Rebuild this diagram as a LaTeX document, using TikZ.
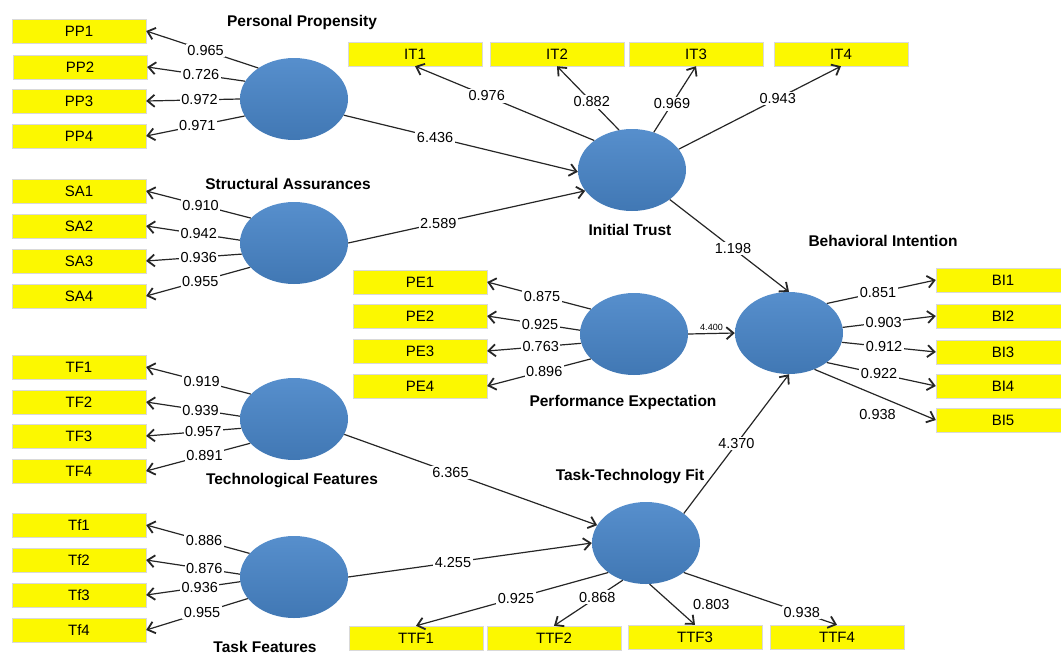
\documentclass[tikz,border=0pt]{standalone}
\usepackage{fontspec}
\setmainfont{Liberation Sans}
\usetikzlibrary{shapes.geometric,arrows.meta}
\definecolor{indyellow}{RGB}{252,248,0}
\definecolor{lvblue}{RGB}{72,133,200}
\begin{document}
\begin{tikzpicture}[x=1pt,y=-1pt,
  ind/.style={draw=black!15,fill=indyellow,minimum width=134pt,minimum height=24pt,inner sep=0pt,font=\fontsize{15}{18}\selectfont},
  lv/.style={ellipse,top color=lvblue!92!white,bottom color=lvblue!90!black,minimum width=108pt,minimum height=82pt,inner sep=0pt},
  ld/.style={draw=black!85,line width=1.2pt,-{Straight Barb[length=7pt,width=12pt,line width=1.8pt]}},
  coef/.style={fill=white,inner sep=1.5pt,font=\fontsize{14.5}{17}\selectfont},
  lvname/.style={font=\fontsize{15.5}{18}\selectfont\bfseries}]
\useasboundingbox (0,0) rectangle (1061,657);
\node[ind] (pp1) at (79,31) {PP1};
\node[ind] (pp2) at (80,67) {PP2};
\node[ind] (pp3) at (79,101) {PP3};
\node[ind] (pp4) at (79,136) {PP4};
\node[ind] (sa1) at (79,191) {SA1};
\node[ind] (sa2) at (79,226) {SA2};
\node[ind] (sa3) at (79,261) {SA3};
\node[ind] (sa4) at (79,296) {SA4};
\node[ind] (tef1) at (79,367) {TF1};
\node[ind] (tef2) at (79,402) {TF2};
\node[ind] (tef3) at (79,436) {TF3};
\node[ind] (tef4) at (79,471) {TF4};
\node[ind] (taf1) at (79,525) {Tf1};
\node[ind] (taf2) at (79,560) {Tf2};
\node[ind] (taf3) at (79,595) {Tf3};
\node[ind] (taf4) at (79,630) {Tf4};
\node[ind] (it1) at (415,54) {IT1};
\node[ind] (it2) at (557,54) {IT2};
\node[ind] (it3) at (696,54) {IT3};
\node[ind] (it4) at (841,54) {IT4};
\node[ind] (pe1) at (420,282) {PE1};
\node[ind] (pe2) at (420,316) {PE2};
\node[ind] (pe3) at (420,351) {PE3};
\node[ind] (pe4) at (420,386) {PE4};
\node[ind] (bi1) at (1003,280) {BI1};
\node[ind] (bi2) at (1003,316) {BI2};
\node[ind] (bi3) at (1003,352) {BI3};
\node[ind] (bi4) at (1003,386) {BI4};
\node[ind] (bi5) at (1003,420) {BI5};
\node[ind] (ttf1) at (416,638) {TTF1};
\node[ind] (ttf2) at (554,638) {TTF2};
\node[ind] (ttf3) at (695,637) {TTF3};
\node[ind] (ttf4) at (837,637) {TTF4};
\node[lv] (pp) at (294,99) {};
\node[lv] (sa) at (294,243) {};
\node[lv] (tef) at (294,419) {};
\node[lv] (taf) at (294,577) {};
\node[lv] (it) at (632,170) {};
\node[lv] (pe) at (634,334) {};
\node[lv] (bi) at (789,333) {};
\node[lv] (ttf) at (646,543) {};
\node[lvname] (ppname) at (302,22) {Personal Propensity};
\node[lvname] (saname) at (288,184) {Structural Assurances};
\node[lvname] (itname) at (630,230) {Initial Trust};
\node[lvname] (biname) at (883,241) {Behavioral Intention};
\node[lvname] (pename) at (623,402) {Performance Expectation};
\node[lvname] (tefname) at (292,481) {Technological Features};
\node[lvname] (ttfname) at (630,477) {Task-Technology Fit};
\node[lvname] (tafname) at (265,647) {Task Features};
\draw[ld] (pp.139) -- node[coef,pos=.47] {0.965} (pp1.east);
\draw[ld] (pp.160) -- node[coef,pos=.45] {0.726} (pp2.east);
\draw[ld] (pp.180) -- node[coef,pos=.43] {0.972} (pp3.east);
\draw[ld] (pp.199) -- node[coef,pos=.48] {0.971} (pp4.east);
\draw[ld] (sa.150) -- node[coef,pos=.48] {0.910} (sa1.east);
\draw[ld] (sa.177) -- node[coef,pos=.44] {0.942} (sa2.east);
\draw[ld] (sa.192) -- node[coef,pos=.45] {0.936} (sa3.east);
\draw[ld] (sa.209) -- node[coef,pos=.48] {0.955} (sa4.east);
\draw[ld] (tef.150) -- node[coef,pos=.47] {0.919} (tef1.east);
\draw[ld] (tef.177) -- node[coef,pos=.42] {0.939} (tef2.east);
\draw[ld] (tef.190) -- node[coef,pos=.40] {0.957} (tef3.east);
\draw[ld] (tef.209) -- node[coef,pos=.44] {0.891} (tef4.east);
\draw[ld] (taf.152) -- node[coef,pos=.44] {0.886} (taf1.east);
\draw[ld] (taf.177) -- node[coef,pos=.38] {0.876} (taf2.east);
\draw[ld] (taf.185) -- node[coef,pos=.43] {0.936} (taf3.east);
\draw[ld] (taf.205) -- node[coef,pos=.45] {0.955} (taf4.east);
\draw[ld] (it.142) -- node[coef,pos=.6] {0.976} (it1.south);
\draw[ld] (it.108) -- node[coef,pos=.44] {0.882} (it2.south);
\draw[ld] (it.60) -- node[coef,pos=.43] {0.969} (it3.south);
\draw[ld] (it.24) -- node[coef,pos=.61] {0.943} (it4.south);
\draw[ld] (pe.150) -- node[coef,pos=.47] {0.875} (pe1.east);
\draw[ld] (pe.176) -- node[coef,pos=.43] {0.925} (pe2.east);
\draw[ld] (pe.190) -- node[coef,pos=.43] {0.763} (pe3.east);
\draw[ld] (pe.210) -- node[coef,pos=.45] {0.896} (pe4.east);
\draw[ld] (bi.38) -- node[coef,pos=.47] {0.851} (bi1.west);
\draw[ld] (bi.6) -- node[coef,pos=.44] {0.903} (bi2.west);
\draw[ld] (bi.-10) -- node[coef,pos=.45] {0.912} (bi3.west);
\draw[ld] (bi.-38) -- node[coef,pos=.48] {0.922} (bi4.west);
\draw[ld] (bi.-55) -- node[coef,pos=.52,yshift=-19pt] {0.938} (bi5.west);
\draw[ld] (ttf.218) -- node[coef,pos=.48] {0.925} (ttf1.north);
\draw[ld] (ttf.238) -- node[coef,pos=.37] {0.868} (ttf2.north);
\draw[ld] (ttf.275) -- node[coef,pos=.5,xshift=39pt] {0.803} (ttf3.north);
\draw[ld] (ttf.-38) -- node[coef,pos=.77] {0.938} (ttf4.north);
\draw[ld] (pp.-18) -- node[coef,pos=.39] {6.436} (it.182);
\draw[ld] (sa.east) -- node[coef,pos=.38] {2.589} (it.204);
\draw[ld] (it.-38) -- node[coef,pos=.53] {1.198} (bi.north);
\draw[ld] (pe.east) -- node[above=1pt,inner sep=1pt,font=\fontsize{9}{10}\selectfont] {4.400} (bi.west);
\draw[ld] (tef.-17) -- node[coef,pos=.42] {6.365} (ttf.160);
\draw[ld] (taf.east) -- node[coef,pos=.43] {4.255} (ttf.west);
\draw[ld] (ttf.38) -- node[coef,pos=.5] {4.370} (bi.south);
\end{tikzpicture}
\end{document}
